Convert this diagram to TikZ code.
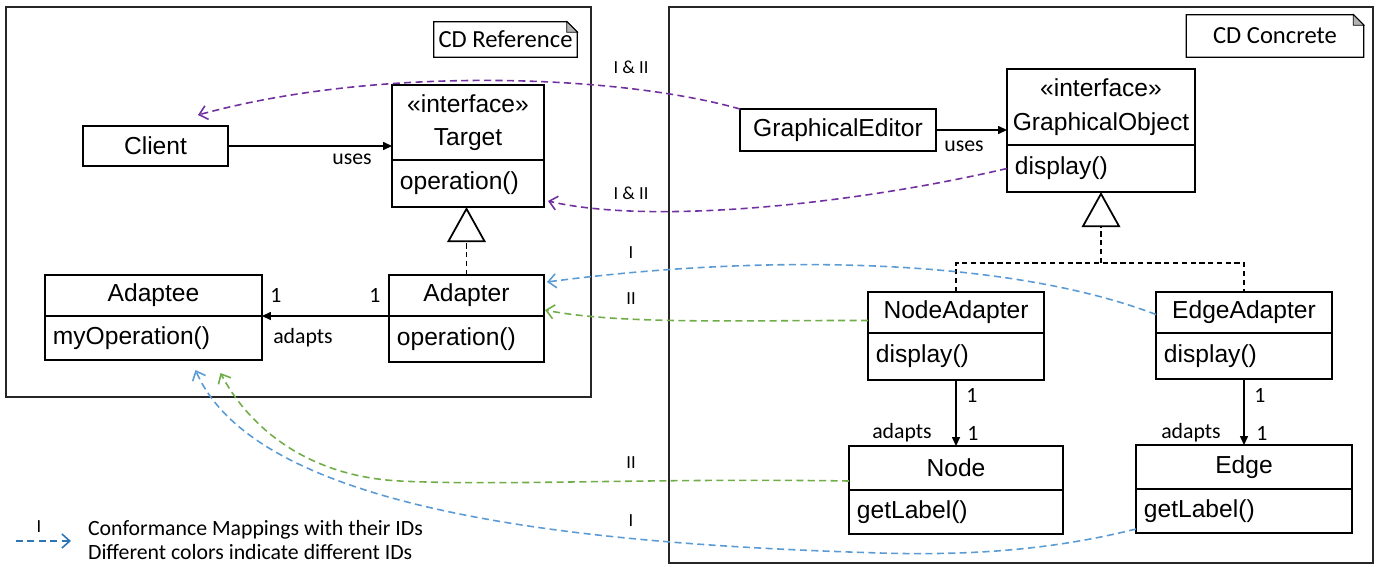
\documentclass[tikz,border=0pt]{standalone}
\usepackage{fontspec}
\setmainfont{Liberation Sans}
\newfontfamily\labelfont{Carlito}
\usetikzlibrary{arrows.meta, positioning, calc}

\definecolor{mapPurple}{HTML}{7030A0}
\definecolor{mapBlue}{HTML}{5B9BD5}
\definecolor{mapGreen}{HTML}{70AD47}
\definecolor{legendBlue}{HTML}{2E75B6}

\tikzset{
  frame/.style={draw=black!85, line width=0.8pt},
  classhead/.style={draw, line width=0.7pt, outer sep=0pt, inner sep=0pt,
    align=center, minimum width=#1, font=\fontsize{14}{19}\selectfont},
  classbody/.style={draw, line width=0.7pt, outer sep=0pt, inner xsep=4.5pt,
    inner ysep=0pt, text width=#1, align=left, font=\fontsize{14}{16}\selectfont},
  notebox/.style={inner sep=0pt, font=\labelfont\fontsize{14}{16}\selectfont},
  lbl/.style={inner sep=1pt, font=\labelfont\fontsize{12.4}{14}\selectfont},
  maplbl/.style={inner sep=1pt, font=\labelfont\fontsize{10.5}{12}\selectfont},
  assoc/.style={line width=0.7pt, -{Triangle[length=5pt, width=4.5pt]}},
  realize/.style={line width=0.7pt, dash pattern=on 3pt off 2pt},
  genTip/.style={-{Triangle[open, length=20pt, width=22pt, line width=1pt]}},
  mapping/.style={line width=0.9pt, dash pattern=on 4pt off 2.5pt,
    -{Straight Barb[length=4.5pt, width=8pt]}},
}

\begin{document}
\begin{tikzpicture}[x=0.02cm, y=-0.02cm]
  \useasboundingbox (0,0) rectangle (1379,566);

  % the two class diagrams
  \draw[frame] (6,7) rectangle (591,397);
  \draw[frame] (669,7) rectangle (1373,563);

  \node[notebox, minimum width=2.86cm, minimum height=0.7cm] (refnote) at (505.5,39.5) {CD Reference};
  \node[notebox, minimum width=3.54cm, minimum height=0.84cm] (connote) at (1275,36) {CD Concrete};
  \foreach \n in {refnote, connote} {
    \draw[line width=0.7pt] (\n.north west) -- ([xshift=-6pt]\n.north east)
      -- ([yshift=-6pt]\n.north east) -- (\n.south east) -- (\n.south west) -- cycle;
    \filldraw[fill=black!30, line width=0.5pt] ([xshift=-6pt]\n.north east)
      -- ([yshift=-6pt]\n.north east) -- ([xshift=-6pt, yshift=-6pt]\n.north east) -- cycle;
  }

  % reference
  \node[classhead=2.9cm, minimum height=0.8cm] (client) at (155.5,146) {Client};

  \node[classhead=3.04cm, minimum height=1.5cm] (tgt) at (468,122.5) {«interface»\\Target};
  \node[classbody=77.5pt, minimum height=0.94cm, below=0pt of tgt] (tgt-op) {operation()};

  \node[classhead=3.1cm, minimum height=0.82cm] (ad) at (466.5,295.5) {Adapter};
  \node[classbody=79.2pt, minimum height=0.92cm, below=0pt of ad] (ad-op) {operation()};

  \node[classhead=4.34cm, minimum height=0.82cm] (ade) at (153.5,295.5) {Adaptee};
  \node[classbody=114.5pt, minimum height=0.88cm, below=0pt of ade] (ade-op) {myOperation()};

  \draw[assoc] (client.east) -- (client.east -| tgt.west);
  \draw[assoc] (ad.south west) -- (ade.south east);
  \draw[realize, genTip] (ad.north) -- (ad.north |- tgt-op.south);

  \node[lbl] (uses-ref) at (352,159) {uses};
  \node[lbl] (adapts-ref) at (303,338) {adapts};
  \node[lbl] (one-ade) at (276,295) {1};
  \node[lbl] (one-ad) at (375,295) {1};

  % concrete
  \node[classhead=3.92cm, minimum height=0.84cm] (ge) at (838,130) {GraphicalEditor};

  \node[classhead=3.76cm, minimum height=1.52cm] (go) at (1101,107) {«interface»\\GraphicalObject};
  \node[classbody=98pt, minimum height=0.94cm, below=0pt of go] (go-op) {display()};

  \node[classhead=3.52cm, minimum height=0.82cm] (na) at (956,312.5) {NodeAdapter};
  \node[classbody=91.1pt, minimum height=0.94cm, below=0pt of na] (na-op) {display()};

  \node[classhead=3.52cm, minimum height=0.82cm] (ea) at (1244,312.5) {EdgeAdapter};
  \node[classbody=91.1pt, minimum height=0.92cm, below=0pt of ea] (ea-op) {display()};

  \node[classhead=4.28cm, minimum height=0.88cm] (nd) at (956,468) {Node};
  \node[classbody=112.8pt, minimum height=0.88cm, below=0pt of nd] (nd-op) {getLabel()};

  \node[classhead=4.32cm, minimum height=0.88cm] (ed) at (1244,467) {Edge};
  \node[classbody=113.9pt, minimum height=0.88cm, below=0pt of ed] (ed-op) {getLabel()};

  \draw[assoc] (ge.east) -- (ge.east -| go.west);
  \draw[assoc] (na-op.south) -- (nd.north);
  \draw[assoc] (ea-op.south) -- (ed.north);

  \coordinate (split) at ($(go-op.south)+(0,71)$);
  \draw[realize] (na.north) |- (split) -| (ea.north);
  \draw[realize, genTip] (split) -- (go-op.south);

  \node[lbl] (uses-con) at (964,146) {uses};
  \node[lbl] (one-na) at (972,395) {1};
  \node[lbl] (one-nd) at (973,433) {1};
  \node[lbl] (adapts-nd) at (902,433) {adapts};
  \node[lbl] (one-ea) at (1260,395) {1};
  \node[lbl] (one-ed) at (1262,433) {1};
  \node[lbl] (adapts-ed) at (1191,433) {adapts};

  % conformance mappings
  \draw[mapping, mapPurple] (ge.north west)
    .. controls (620,75) and (380,65) .. ($(client.north east)+(-30,-11)$);
  \draw[mapping, mapPurple] (go-op.west)
    .. controls (850,205) and (650,225) .. ($(tgt-op.south east)+(4,-6)$);
  \draw[mapping, mapBlue] ($(ea.west)+(0,2)$)
    .. controls (1000,255) and (750,255) .. ($(ad.north east)+(3,7)$);
  \draw[mapping, mapGreen] ($(na.west)+(0,8)$)
    .. controls (750,320) and (620,325) .. ($(ad.south east)+(1,-6)$);
  \draw[mapping, mapGreen] ($(nd.south west)+(0,-9)$)
    .. controls (650,478) and (500,486) .. (400,481)
    .. controls (300,476) and (245,420) .. ($(ade-op.south)+(67,13)$);
  \draw[mapping, mapBlue] ($(ed-op.south west)+(0,-4)$)
    .. controls (1060,548) and (980,556) .. (880,553)
    .. controls (620,545) and (260,520) .. ($(ade-op.south)+(42,10)$);

  \node[maplbl] (id-a) at (631,67) {I \& II};
  \node[maplbl] (id-b) at (631,193) {I \& II};
  \node[maplbl] (id-c) at (631,253) {I};
  \node[maplbl] (id-d) at (631,299) {II};
  \node[maplbl] (id-e) at (631,463) {II};
  \node[maplbl] (id-f) at (631,521) {I};

  % legend
  \coordinate (lg-start) at (16,541);
  \coordinate (lg-end) at (71,541);
  \draw[mapping, legendBlue] (lg-start) -- (lg-end);
  \node[maplbl] (lg-id) at (39,527) {I};
  \node[lbl, anchor=west, align=left] (legend) at (86,540)
    {Conformance Mappings with their IDs\\Different colors indicate different IDs};
\end{tikzpicture}
\end{document}
